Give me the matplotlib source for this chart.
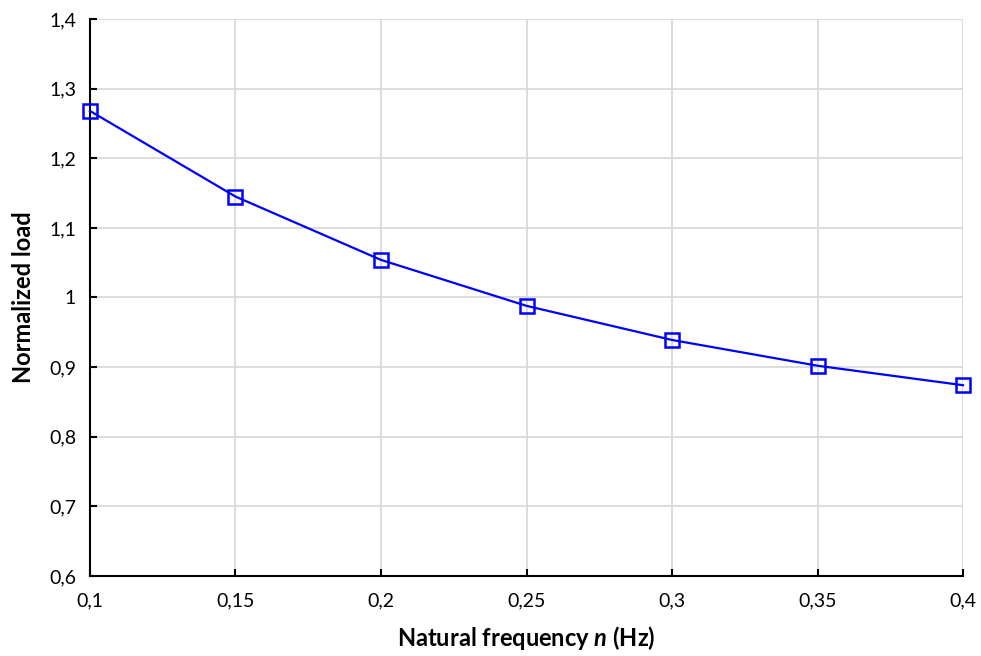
import matplotlib.pyplot as plt
from matplotlib.ticker import FuncFormatter, MultipleLocator

plt.rcParams['font.family'] = ['Lato', 'DejaVu Sans']
plt.rcParams['mathtext.fontset'] = 'custom'
plt.rcParams['mathtext.bfit'] = 'Lato:italic:bold'

frequency = [0.10, 0.15, 0.20, 0.25, 0.30, 0.35, 0.40]
normalized_load = [1.268, 1.145, 1.054, 0.988, 0.939, 0.902, 0.874]


def comma_fmt(v, pos):
    return ('%g' % round(v, 3)).replace('.', ',')


fig = plt.figure(figsize=(9.81, 6.56), dpi=100)
ax = fig.add_axes([0.0917, 0.122, 0.89, 0.849])

ax.plot(frequency, normalized_load, color='#0000ff', lw=1.6,
        marker='s', markersize=10, markerfacecolor='none',
        markeredgecolor='#0000ff', markeredgewidth=1.8, clip_on=False, zorder=3)

ax.set_xlim(0.1, 0.4)
ax.set_ylim(0.6, 1.4)
ax.xaxis.set_major_locator(MultipleLocator(0.05))
ax.yaxis.set_major_locator(MultipleLocator(0.1))
ax.xaxis.set_major_formatter(FuncFormatter(comma_fmt))
ax.yaxis.set_major_formatter(FuncFormatter(comma_fmt))

ax.grid(True, color='#d9d9d9', lw=1.3)
ax.set_axisbelow(True)
for side in ('top', 'right'):
    ax.spines[side].set_visible(False)
for side in ('left', 'bottom'):
    ax.spines[side].set_linewidth(1.5)
    ax.spines[side].set_color('black')

ax.tick_params(direction='in', length=5, width=1.5, labelsize=14,
               colors='black')
ax.tick_params(axis='x', pad=12)
ax.tick_params(axis='y', pad=10)

ax.set_xlabel(r'Natural frequency $\mathbfit{n}$ (Hz)', fontsize=17,
              fontweight='bold', labelpad=10)
ax.set_ylabel('Normalized load', fontsize=17, fontweight='bold', labelpad=10)

fig.savefig('out.png', dpi=100)
